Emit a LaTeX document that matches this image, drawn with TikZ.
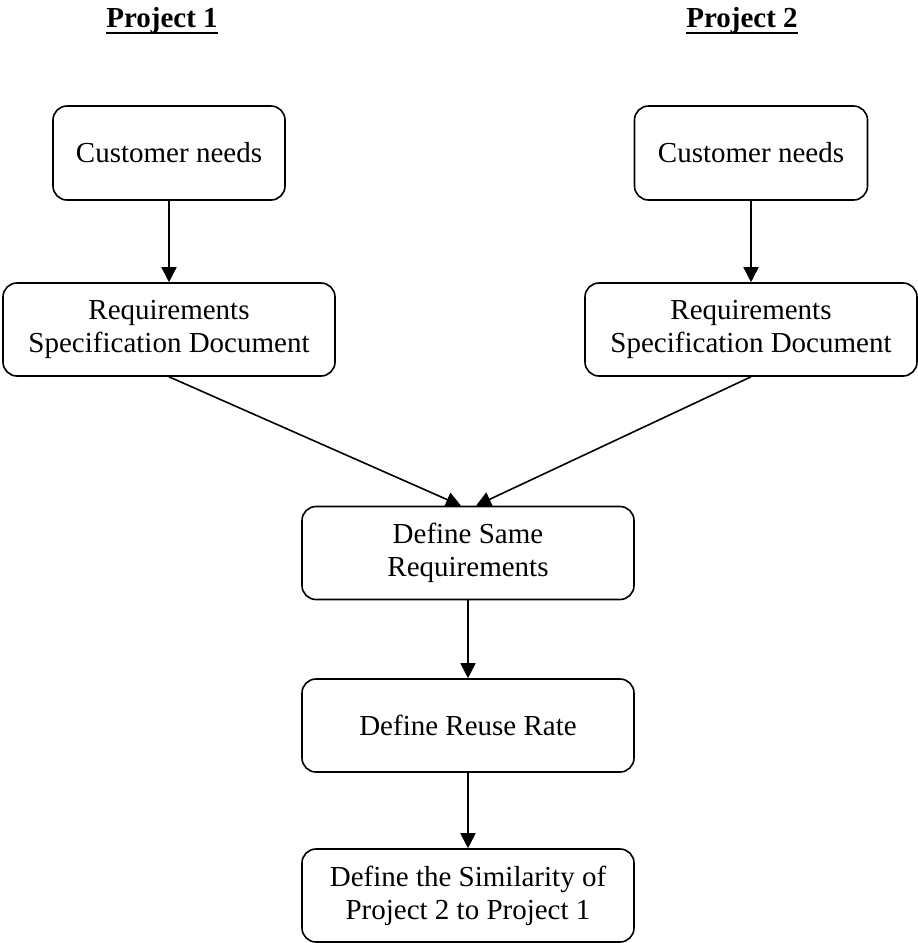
\documentclass[tikz,border=0pt]{standalone}
\usepackage{fontspec}
\setmainfont{Liberation Serif}
\usetikzlibrary{arrows.meta}
\begin{document}
\begin{tikzpicture}[x=1pt,y=-1pt,
  box/.style={draw,line width=1.6pt,rounded corners=14pt,align=center,
    font=\fontsize{29}{33}\selectfont,inner sep=0pt},
  title/.style={font=\fontsize{29}{33}\selectfont\bfseries,inner sep=0pt,anchor=base},
  conn/.style={line width=1.6pt,-{Triangle[width=15pt,length=15pt]}}]
\useasboundingbox (0,0) rectangle (918,943);
\node[title] (p1) at (162,27) {Project 1};
\node[title] (p2) at (742,27) {Project 2};
\draw[line width=2.6pt] ([yshift=-6pt]p1.base west) -- ([yshift=-6pt]p1.base east);
\draw[line width=2.6pt] ([yshift=-6pt]p2.base west) -- ([yshift=-6pt]p2.base east);
\node[box,minimum width=232pt,minimum height=94pt] (cn1) at (169,153) {Customer needs};
\node[box,minimum width=233pt,minimum height=94pt] (cn2) at (751,153) {Customer needs};
\node[box,minimum width=332pt,minimum height=93pt] (rs1) at (169,329.5) {Requirements\\Specification Document};
\node[box,minimum width=332pt,minimum height=93pt] (rs2) at (751,329.5) {Requirements\\Specification Document};
\node[box,minimum width=332pt,minimum height=93pt] (ds) at (468,553) {Define Same\\Requirements};
\node[box,minimum width=332pt,minimum height=93pt] (rr) at (468,725.5) {Define Reuse Rate};
\node[box,minimum width=332pt,minimum height=93pt] (sim) at (468,895.5) {Define the Similarity of\\Project 2 to Project 1};
\draw[conn] (cn1) -- (rs1);
\draw[conn] (cn2) -- (rs2);
\draw[conn] (rs1.south) -- ([xshift=-7pt]ds.north);
\draw[conn] (rs2.south) -- ([xshift=8pt]ds.north);
\draw[conn] (ds) -- (rr);
\draw[conn] (rr) -- (sim);
\end{tikzpicture}
\end{document}
